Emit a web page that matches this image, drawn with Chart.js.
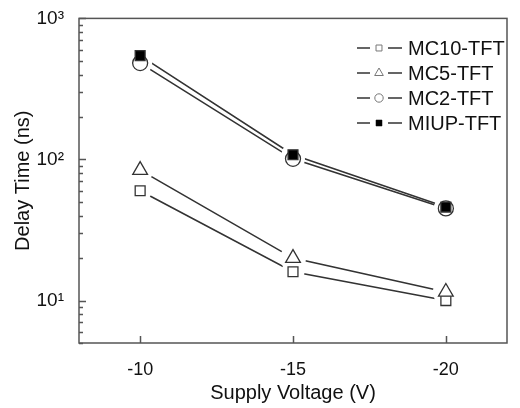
<!DOCTYPE html>
<html>
<head>
<meta charset="utf-8">
<script src="https://cdn.jsdelivr.net/npm/chart.js@4.4.1/dist/chart.umd.min.js"></script>
<style>
  body { margin: 0; background: #fff; }
  #box { width: 520px; height: 408px; }
</style>
</head>
<body>
<div id="box"><canvas id="grafico" width="520" height="408"></canvas></div>
<script>
// Dados
const voltagens = [-10, -15, -20];
const nomes = ["MC10-TFT", "MC5-TFT", "MC2-TFT", "MIUP-TFT"];
const mc10 = [60, 16, 10];
const mc5 = [84, 20, 11.5];
const mc2 = [482, 101, 45];
const miup = [545, 108, 46];
const valoresY = [mc10, mc5, mc2, miup];
const ticksX = [-10, -15, -20];
const ticksY = [10, 100, 1000];

const estilos = ["rect", "triangle", "circle", "rect"];
const raios = [7, 8.5, 7.5, 7];
const preenchimento = ["#fff", "#fff", "#fff", "#000"];
const corLinha = "#333";

function pontos(v) {
    return voltagens.map((x, i) => ({ x: x, y: v[i] }));
}

const datasets = [];
// linhas
valoresY.forEach((v, i) => {
    datasets.push({
        data: pontos(v), borderColor: corLinha, borderWidth: 1.6,
        pointRadius: 0, showLine: true, order: 30
    });
});
// "buracos" brancos em volta dos marcadores
valoresY.forEach((v, i) => {
    datasets.push({
        data: pontos(v), showLine: false, pointStyle: "circle",
        pointRadius: raios[i] + 4.5, pointBackgroundColor: "#fff",
        pointBorderWidth: 0, borderColor: "#fff", order: 20
    });
});
// marcadores
valoresY.forEach((v, i) => {
    datasets.push({
        label: nomes[i], data: pontos(v), showLine: false,
        pointStyle: estilos[i], pointRadius: raios[i],
        pointBackgroundColor: preenchimento[i], pointBorderColor: "#333",
        pointBorderWidth: 1.3, order: 10 - i
    });
});

const fonte = "'Liberation Sans', Arial, sans-serif";

// moldura, ticks para dentro e legenda
const extras = {
    id: "extras",
    afterDraw(chart) {
        const c = chart.ctx;
        const a = chart.chartArea;
        const sx = chart.scales.x, sy = chart.scales.y;
        c.save();
        c.strokeStyle = "#555";
        c.lineWidth = 1.5;
        c.strokeRect(a.left, a.top, a.right - a.left, a.bottom - a.top);
        c.beginPath();
        for (let e = 0; e <= 3; e++) {
            for (let k = 1; k <= 9; k++) {
                const v = k * Math.pow(10, e);
                if (v < sy.min || v > sy.max) continue;
                const py = Math.round(sy.getPixelForValue(v)) + 0.5;
                const len = k === 1 ? 7 : 4;
                c.moveTo(a.left, py);
                c.lineTo(a.left + len, py);
            }
        }
        ticksX.forEach(t => {
            const px = Math.round(sx.getPixelForValue(t)) + 0.5;
            c.moveTo(px, a.bottom);
            c.lineTo(px, a.bottom - 7);
        });
        c.stroke();

        // legenda
        const x0 = 357, y0 = 48, dy = 25;
        nomes.forEach((n, i) => {
            const y = y0 + i * dy;
            c.strokeStyle = corLinha;
            c.lineWidth = 1.4;
            c.beginPath();
            c.moveTo(x0, y); c.lineTo(x0 + 13, y);
            c.moveTo(x0 + 31, y); c.lineTo(x0 + 45, y);
            c.stroke();
            c.fillStyle = preenchimento[i];
            c.strokeStyle = "#777";
            c.lineWidth = 1;
            Chart.helpers.drawPoint(c, {
                pointStyle: estilos[i], radius: i === 1 ? 5 : 4.2,
                rotation: 0, borderWidth: 1
            }, x0 + 22, y);
            if (i === 3) c.fill();
            c.fillStyle = "#111";
            c.font = "20px " + fonte;
            c.textBaseline = "middle";
            c.fillText(n, x0 + 51, y + 1);
        });
        c.restore();
    }
};

new Chart(document.getElementById("grafico"), {
    type: "scatter",
    data: { datasets: datasets },
    options: {
        responsive: false,
        animation: false,
        layout: { padding: { top: 18, right: 1, left: 0, bottom: 0 } },
        plugins: { legend: { display: false }, tooltip: { enabled: false } },
        scales: {
            x: {
                type: "linear", reverse: true, min: -22, max: -8,
                afterBuildTicks: s => { s.ticks = ticksX.map(v => ({ value: v })); },
                afterFit: s => { s.height = 65; },
                grid: { display: false },
                border: { display: false },
                ticks: { color: "#111", font: { size: 18, family: fonte }, padding: 8 },
                title: {
                    display: true, text: "Supply Voltage (V)", color: "#111",
                    font: { size: 20, family: fonte }, padding: { top: 8, bottom: 3 }
                }
            },
            y: {
                type: "logarithmic", min: 5, max: 1000,
                afterBuildTicks: s => { s.ticks = ticksY.map(v => ({ value: v })); },
                afterFit: s => { s.width = 79; },
                grid: { display: false },
                border: { display: false },
                ticks: {
                    color: "#111", font: { size: 19, family: fonte }, padding: 7,
                    callback: v => ({ 10: "10¹", 100: "10²", 1000: "10³" })[v] || ""
                },
                title: {
                    display: true, text: "Delay Time (ns)", color: "#111",
                    font: { size: 20, family: fonte }, padding: { top: 11, bottom: 0 }
                }
            }
        }
    },
    plugins: [extras]
});
</script>
</body>
</html>
